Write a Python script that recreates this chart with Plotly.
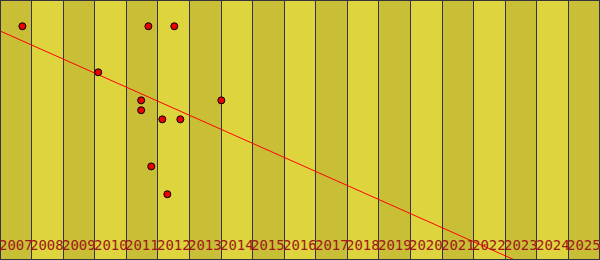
import plotly.graph_objects as go

years = list(range(2007, 2026))
year_labels = [str(y) for y in years]

# scatter points (x in fractional years, y in arbitrary units 0-100)
pt_x = [2007.21, 2011.20, 2012.02, 2009.61, 2010.97, 2010.97, 2011.64, 2012.21, 2013.51, 2011.29, 2011.80]
pt_y = [89.9, 89.9, 89.9, 72.2, 61.4, 57.6, 54.1, 54.1, 61.4, 36.0, 25.3]

# trend line endpoints
trend_x = [2006.5, 2025.5]
trend_y = [88.1, -14.6]

dark_band = "#c9bf37"
light_band = "#ddd43e"
grid_col = "#35343e"
label_col = "#a01818"

fig = go.Figure()

shapes = []
for i, yr in enumerate(years):
    shapes.append(dict(type="rect", xref="x", yref="paper", x0=yr - 0.5, x1=yr + 0.5,
                       y0=0, y1=1, fillcolor=dark_band if i % 2 == 0 else light_band,
                       line=dict(width=0), layer="below"))
shapes.append(dict(type="rect", xref="paper", yref="paper", x0=0, x1=1, y0=0, y1=1,
                   line=dict(color=grid_col, width=2), layer="above"))

fig.add_trace(go.Scatter(x=trend_x, y=trend_y, mode="lines",
                         line=dict(color="#ff0000", width=1), hoverinfo="skip"))
fig.add_trace(go.Scatter(x=pt_x, y=pt_y, mode="markers",
                         marker=dict(size=7, color="#ee0000", line=dict(color="#000000", width=1))))

annotations = [dict(x=yr, y=5.8, xref="x", yref="y", text=lab, showarrow=False,
                    font=dict(family="DejaVu Sans Mono", size=14, color=label_col),
                    xanchor="center", yanchor="middle")
               for yr, lab in zip(years, year_labels)]

fig.update_layout(
    width=600, height=260,
    margin=dict(l=0, r=0, t=0, b=0),
    paper_bgcolor=light_band, plot_bgcolor=light_band,
    showlegend=False,
    shapes=shapes,
    annotations=annotations,
    xaxis=dict(range=[2006.5, 2025.5], showticklabels=False, ticks="", showgrid=True,
               tickvals=[y + 0.5 for y in years[:-1]], gridcolor=grid_col, gridwidth=1,
               zeroline=False, showline=False, fixedrange=True),
    yaxis=dict(range=[0, 100], showticklabels=False, ticks="", showgrid=False,
               zeroline=False, showline=False, fixedrange=True),
)

fig.write_html("out.html")
